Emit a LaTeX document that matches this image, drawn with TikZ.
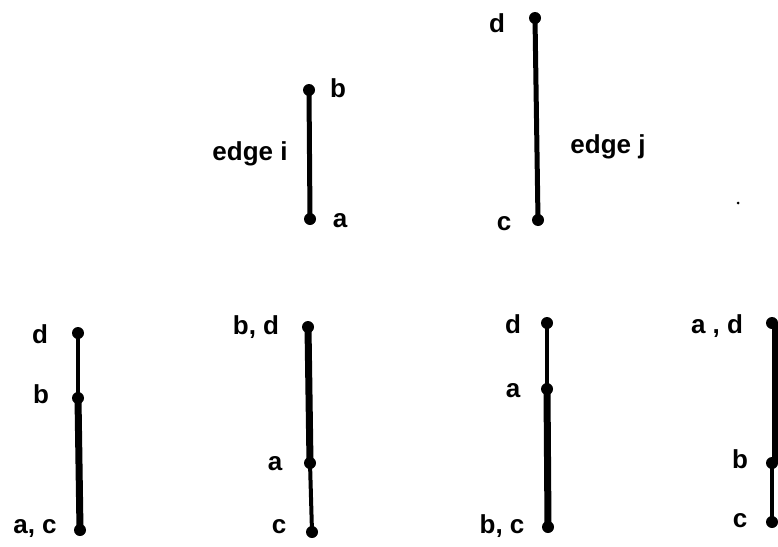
\documentclass[tikz,border=0pt]{standalone}
\usepackage{fontspec}
\setmainfont{Liberation Sans}
\usetikzlibrary{backgrounds}
\begin{document}
\begin{tikzpicture}[x=1pt,y=-1pt,
  vtx/.style={circle,fill=black,inner sep=0pt,minimum size=12pt},
  lbl/.style={font=\fontsize{26}{30}\selectfont\bfseries,inner sep=0pt,anchor=base},
  thinedge/.style={line width=4pt},
  thickedge/.style={line width=7pt},
  midedge/.style={line width=5pt}]
\useasboundingbox (0,0) rectangle (778,546);
\clip (0,0) rectangle (778,546);
% edge i
\node[vtx] (ib) at (309,90) {};
\node[vtx] (ia) at (310,219) {};
\node[lbl] (lib) at (338,97) {b};
\node[lbl] (lia) at (340,227) {a};
\node[lbl] (ei) at (250,160) {edge i};
% edge j
\node[vtx] (jd) at (535,18) {};
\node[vtx] (jc) at (538,220) {};
\node[lbl] (ljd) at (497,32) {d};
\node[lbl] (ljc) at (504,230) {c};
\node[lbl] (ej) at (608,153) {edge j};
% stray mark
\node[circle,fill=black,inner sep=0pt,minimum size=3pt] (spot) at (738,203) {};
% case 1
\node[vtx] (p1d) at (78,333) {};
\node[vtx] (p1b) at (78,398) {};
\node[vtx] (p1ac) at (80,530) {};
\node[lbl] (l1d) at (40,343) {d};
\node[lbl] (l1b) at (41,403) {b};
\node[lbl] (l1ac) at (35,533) {a, c};
% case 2
\node[vtx] (p2bd) at (308,327) {};
\node[vtx] (p2a) at (310,463) {};
\node[vtx] (p2c) at (312,532) {};
\node[lbl] (l2bd) at (256,334) {b, d};
\node[lbl] (l2a) at (275,470) {a};
\node[lbl] (l2c) at (279,533) {c};
% case 3
\node[vtx] (p3d) at (547,323) {};
\node[vtx] (p3a) at (547,389) {};
\node[vtx] (p3bc) at (548,527) {};
\node[lbl] (l3d) at (513,333) {d};
\node[lbl] (l3a) at (513,397) {a};
\node[lbl] (l3bc) at (502,533) {b, c};
% case 4
\node[vtx] (p4ad) at (772,323) {};
\node[vtx] (p4b) at (772,463) {};
\node[vtx] (p4c) at (772,522) {};
\node[lbl] (l4ad) at (717,333) {a , d};
\node[lbl] (l4b) at (740,468) {b};
\node[lbl] (l4c) at (740,527) {c};
\begin{scope}[on background layer]
\draw[midedge] (ib.center) -- (ia.center);
\draw[midedge] (jd.center) -- (jc.center);
\draw[thinedge] (p1d.center) -- (p1b.center);
\draw[thickedge] (p1b.center) -- (p1ac.center);
\draw[thickedge] (p2bd.center) -- (p2a.center);
\draw[thinedge] (p2a.center) -- (p2c.center);
\draw[thinedge] (p3d.center) -- (p3a.center);
\draw[thickedge] (p3a.center) -- (p3bc.center);
\draw[thickedge] ([xshift=3pt]p4ad.center) -- ([xshift=3pt]p4b.center);
\draw[thinedge] (p4b.center) -- (p4c.center);
\end{scope}
\end{tikzpicture}
\end{document}
